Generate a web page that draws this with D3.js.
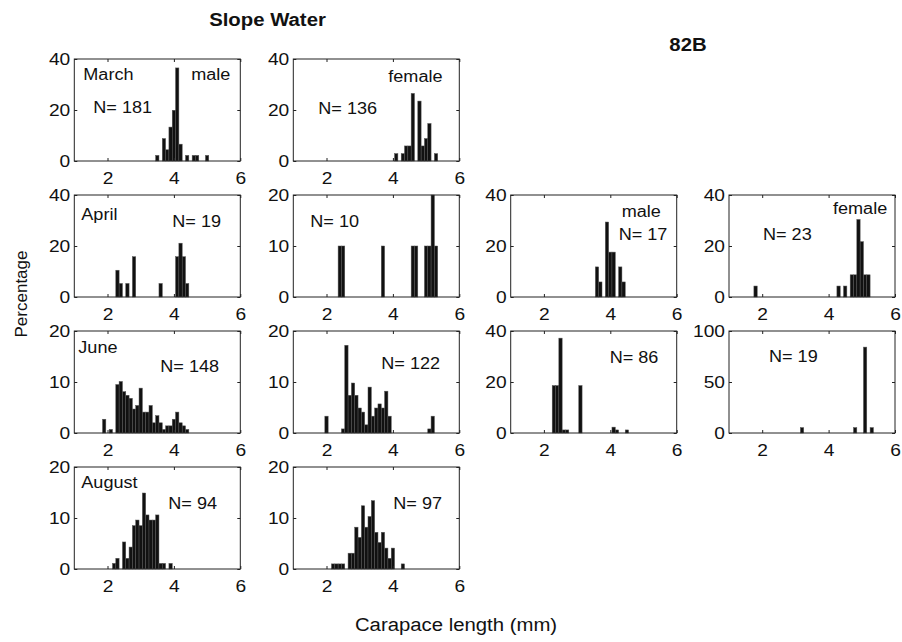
<!DOCTYPE html>
<html><head><meta charset="utf-8">
<script src="https://cdn.jsdelivr.net/npm/d3@7"></script>
<style>
body{margin:0;background:#fff}
svg{display:block}
text{font-family:"Liberation Sans",Arial,Helvetica,sans-serif;fill:#111}
</style>
</head><body>
<svg id="chart" width="902" height="642"></svg>
<script>
// ---------- data (bin centres in mm, percentages) ----------
const xTickValues = [2, 4, 6];
const binWidth = 0.1;

const marchMaleX   = [3.5, 3.7, 3.8, 3.9, 4.0, 4.1, 4.2, 4.4, 4.6, 4.7, 5.0];
const marchMaleY   = [2.2, 8.8, 4.4, 13.3, 19.9, 36.5, 6.6, 2.2, 2.2, 2.2, 2.2];
const marchFemX    = [4.1, 4.3, 4.4, 4.5, 4.6, 4.8, 4.9, 5.0, 5.1, 5.3];
const marchFemY    = [2.9, 2.9, 5.9, 5.9, 26.5, 23.5, 5.9, 8.8, 14.7, 2.9];
const aprilMaleX   = [2.3, 2.4, 2.6, 2.8, 3.6, 4.1, 4.2, 4.3, 4.4];
const aprilMaleY   = [10.5, 5.3, 5.3, 15.8, 5.3, 15.8, 21.1, 15.8, 5.3];
const aprilFemX    = [2.4, 2.5, 3.7, 4.6, 4.7, 5.0, 5.1, 5.2, 5.3];
const aprilFemY    = [10, 10, 10, 10, 10, 10, 10, 20, 10];
const b82MaleX     = [3.6, 3.7, 3.9, 4.0, 4.1, 4.3, 4.4];
const b82MaleY     = [11.8, 5.9, 29.4, 17.6, 17.6, 11.8, 5.9];
const b82FemX      = [1.8, 4.3, 4.5, 4.7, 4.8, 4.9, 5.0, 5.1, 5.2];
const b82FemY      = [4.3, 4.3, 4.3, 8.7, 8.7, 30.4, 21.7, 8.7, 8.7];
const juneMaleX    = [1.9, 2.1, 2.3, 2.4, 2.5, 2.6, 2.7, 2.8, 2.9, 3.0, 3.1, 3.2, 3.3, 3.4, 3.5, 3.6, 3.7, 3.8, 3.9, 4.0, 4.1, 4.2, 4.3, 4.4];
const juneMaleY    = [2.7, 0.7, 9.5, 10.1, 8.1, 7.4, 6.8, 4.7, 5.4, 8.8, 4.1, 4.1, 5.4, 2.0, 3.4, 2.0, 0.7, 1.4, 1.4, 2.7, 4.1, 2.0, 1.4, 0.7];
const juneFemX     = [2.0, 2.5, 2.6, 2.7, 2.8, 2.9, 3.0, 3.1, 3.2, 3.3, 3.4, 3.5, 3.6, 3.7, 3.8, 3.9, 5.1, 5.2];
const juneFemY     = [3.3, 0.8, 17.2, 7.4, 9.8, 7.4, 4.9, 4.1, 1.6, 9.0, 3.3, 4.9, 5.7, 4.9, 8.2, 3.3, 0.8, 3.3];
const b82JuneAX    = [2.3, 2.4, 2.5, 2.6, 2.7, 3.1, 4.1, 4.2, 4.5];
const b82JuneAY    = [18.6, 18.6, 37.2, 1.2, 1.2, 18.6, 2.3, 1.2, 1.2];
const b82JuneBX    = [3.2, 4.8, 5.1, 5.3];
const b82JuneBY    = [5.3, 5.3, 84.2, 5.3];
const augMaleX     = [2.2, 2.3, 2.5, 2.6, 2.7, 2.8, 2.9, 3.0, 3.1, 3.2, 3.3, 3.4, 3.5, 3.6, 3.7, 3.9];
const augMaleY     = [1.1, 2.1, 5.3, 2.1, 4.3, 8.5, 9.6, 8.5, 14.9, 10.6, 9.6, 9.6, 10.6, 1.1, 1.1, 1.1];
const augFemX      = [2.2, 2.3, 2.4, 2.5, 2.7, 2.8, 2.9, 3.0, 3.1, 3.2, 3.3, 3.4, 3.5, 3.6, 3.7, 3.8, 3.9, 4.0, 4.3];
const augFemY      = [1.0, 1.0, 1.0, 1.0, 3.1, 3.1, 8.2, 6.2, 12.4, 8.2, 10.3, 13.4, 7.2, 5.2, 7.2, 4.1, 2.1, 4.1, 1.0];

const titleLeft = "Slope Water";
const titleRight = "82B";
const yAxisTitle = "Percentage";
const xAxisTitle = "Carapace length (mm)";

// ---------- layout ----------
const colX = [74.3, 293.3, 510.7, 729];
const rowY = [59, 195, 331, 467];
const pw = 166, ph = 102;
const FS = 16, SX = 1.13;

const panels = [
  {c:0, r:0, ymax:40, yt:[0,20,40], xs:marchMaleX, ys:marchMaleY,
   notes:[["March",9,21,"start"],["male",156,21,"end"],["N= 181",19,54,"start"]]},
  {c:1, r:0, ymax:40, yt:[0,20,40], xs:marchFemX, ys:marchFemY,
   notes:[["female",95,23,"start"],["N= 136",25,55,"start"]]},
  {c:0, r:1, ymax:40, yt:[0,20,40], xs:aprilMaleX, ys:aprilMaleY,
   notes:[["April",7,25,"start"],["N= 19",98,32,"start"]]},
  {c:1, r:1, ymax:20, yt:[0,10,20], xs:aprilFemX, ys:aprilFemY,
   notes:[["N= 10",17,32,"start"]]},
  {c:2, r:1, ymax:40, yt:[0,20,40], xs:b82MaleX, ys:b82MaleY,
   notes:[["male",111,22,"start"],["N= 17",108,45,"start"]]},
  {c:3, r:1, ymax:40, yt:[0,20,40], xs:b82FemX, ys:b82FemY,
   notes:[["female",104,19,"start"],["N= 23",34,45,"start"]]},
  {c:0, r:2, ymax:20, yt:[0,10,20], xs:juneMaleX, ys:juneMaleY,
   notes:[["June",4,22,"start"],["N= 148",86,41,"start"]]},
  {c:1, r:2, ymax:20, yt:[0,10,20], xs:juneFemX, ys:juneFemY,
   notes:[["N= 122",88,38,"start"]]},
  {c:2, r:2, ymax:40, yt:[0,20,40], xs:b82JuneAX, ys:b82JuneAY,
   notes:[["N= 86",99,32,"start"]]},
  {c:3, r:2, ymax:100, yt:[0,50,100], xs:b82JuneBX, ys:b82JuneBY,
   notes:[["N= 19",40,31,"start"]]},
  {c:0, r:3, ymax:20, yt:[0,10,20], xs:augMaleX, ys:augMaleY,
   notes:[["August",7,21,"start"],["N= 94",94,42,"start"]]},
  {c:1, r:3, ymax:20, yt:[0,10,20], xs:augFemX, ys:augFemY,
   notes:[["N= 97",100,42,"start"]]}
];

const svg = d3.select("#chart");

function addText(g, str, x, y, anchor, opts={}) {
  return g.append("text")
    .attr("transform", `translate(${x},${y}) scale(${opts.sx||SX},1)`)
    .attr("text-anchor", anchor)
    .attr("font-size", opts.fs || FS)
    .attr("font-weight", opts.bold ? "bold" : null)
    .text(str);
}

const fmt = d3.format("d");

panels.forEach(p => {
  const g = svg.append("g").attr("transform", `translate(${colX[p.c]},${rowY[p.r]})`);
  const x = d3.scaleLinear().domain([1, 6]).range([0, pw]);
  const y = d3.scaleLinear().domain([0, p.ymax]).range([ph, 0]);
  const data = p.xs.map((v, i) => ({x: v, y: p.ys[i]}));

  g.selectAll("rect.bar").data(data).join("rect")
    .attr("class", "bar")
    .attr("x", d => x(d.x - binWidth/2))
    .attr("width", d => x(d.x + binWidth/2) - x(d.x - binWidth/2))
    .attr("y", d => y(d.y))
    .attr("height", d => y(0) - y(d.y))
    .attr("fill", "#111")
    .attr("stroke", "#555")
    .attr("stroke-width", 0.5);

  // frame
  g.append("rect").attr("width", pw).attr("height", ph)
    .attr("fill", "none").attr("stroke", "#222").attr("stroke-width", 1);

  // inward ticks on all sides
  const axB = g.append("g").attr("transform", `translate(0,${ph})`)
    .call(d3.axisBottom(x).tickValues(xTickValues).tickFormat(fmt).tickSize(-3).tickSizeOuter(0).tickPadding(11));
  const axT = g.append("g")
    .call(d3.axisTop(x).tickValues(xTickValues).tickSize(-3).tickSizeOuter(0).tickFormat(""));
  const axL = g.append("g")
    .call(d3.axisLeft(y).tickValues(p.yt).tickFormat(fmt).tickSize(-3).tickSizeOuter(0).tickPadding(4));
  const axR = g.append("g").attr("transform", `translate(${pw},0)`)
    .call(d3.axisRight(y).tickValues(p.yt).tickSize(-3).tickSizeOuter(0).tickFormat(""));
  [axB, axT, axL, axR].forEach(a => {
    a.select(".domain").remove();
    a.selectAll("line").attr("stroke", "#222");
    a.selectAll("text").attr("font-size", FS + 1)
      .attr("font-family", '"Liberation Sans",Arial,Helvetica,sans-serif').attr("fill", "#111");
  });
  axB.selectAll(".tick text").each(function() {
    d3.select(this).attr("transform", `scale(${SX},1)`).attr("x", 0);
  });
  axL.selectAll(".tick text").each(function() {
    const t = d3.select(this);
    const xx = +t.attr("x");
    t.attr("x", xx / SX).attr("transform", `scale(${SX},1)`);
  });

  p.notes.forEach(n => addText(g, n[0], n[1], n[2], n[3]));
});

// titles
addText(svg, titleLeft, 267.5, 26, "middle", {bold:true, fs:18});
addText(svg, titleRight, 688, 51, "middle", {bold:true, fs:18});
addText(svg, xAxisTitle, 456, 631, "middle", {fs:18});
svg.append("text")
  .attr("transform", "translate(27,294) rotate(-90)")
  .attr("text-anchor", "middle")
  .attr("font-size", 17)
  .text(yAxisTitle);
</script>
</body></html>
